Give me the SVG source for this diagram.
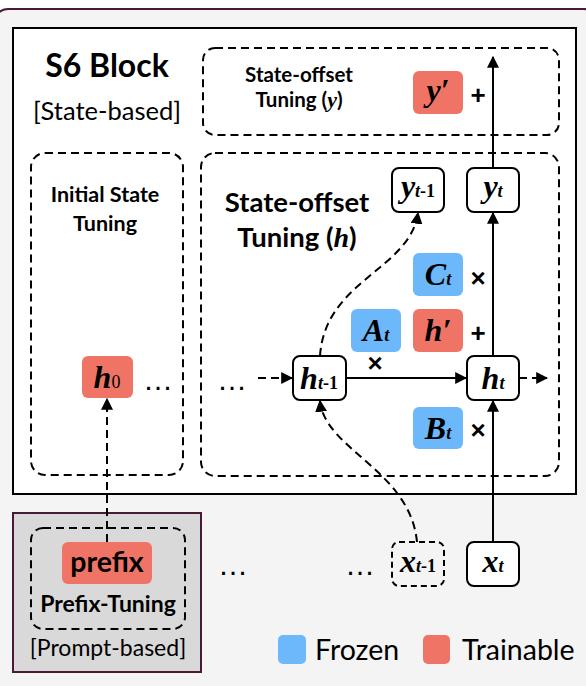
<svg xmlns="http://www.w3.org/2000/svg" width="586" height="686" viewBox="0 0 586 686">
<style>
.sans{font-family:Lato,"Open Sans","Liberation Sans",sans-serif;fill:#000}
.b{font-weight:bold}
.m{font-family:"Liberation Serif","Times New Roman",serif;font-weight:bold;font-style:italic;fill:#000;font-size:32px;text-anchor:middle}
.sub{font-size:18px}
.up{font-style:normal}
.dash{fill:none;stroke:#000;stroke-width:2;stroke-dasharray:8 5}
.node{fill:#fff;stroke:#000;stroke-width:2}
.red{fill:#f07466}
.blue{fill:#6cb8fb}
.line{fill:none;stroke:#000;stroke-width:2}
.op{font-family:"Liberation Sans",sans-serif;font-weight:bold;font-size:26px;text-anchor:middle}
.dots{font-family:"Liberation Sans",sans-serif;font-size:30px;text-anchor:middle}
</style>
<defs>
<marker id="ah" viewBox="0 0 10 10" refX="9" refY="5" markerWidth="6" markerHeight="6" markerUnits="strokeWidth" orient="auto">
<path d="M0,0 L10,5 L0,10 z" fill="#000"/>
</marker>
</defs>
<rect x="-6" y="9" width="604" height="700" rx="14" fill="#f4f4f4" stroke="#4a1a35" stroke-width="2"/>
<g id="s6block">
<rect x="13" y="28" width="563" height="466" fill="#fff" stroke="#000" stroke-width="2"/>
<text class="sans b" x="107" y="77" font-size="32" text-anchor="middle">S6 Block</text>
<text class="sans" x="107" y="120" font-size="25.5" text-anchor="middle">[State-based]</text>
</g>
<g id="offset-y">
<rect class="dash" x="203" y="48" width="356" height="87" rx="12"/>
<text class="sans b" x="299" y="82" font-size="20.5" text-anchor="middle">State-offset</text>
<text class="sans b" x="299" y="107" font-size="20.5" text-anchor="middle">Tuning (<tspan font-family="Liberation Serif,serif" font-style="italic" font-size="22">y</tspan>)</text>
</g>
<g id="initial">
<rect class="dash" x="31" y="153" width="152" height="322" rx="14"/>
<text class="sans b" x="105" y="202" font-size="21.5" text-anchor="middle">Initial State</text>
<text class="sans b" x="105" y="231" font-size="21.5" text-anchor="middle">Tuning</text>
</g>
<g id="offset-h">
<rect class="dash" x="201" y="153" width="358" height="323" rx="14"/>
<text class="sans b" x="297" y="212" font-size="27.5" text-anchor="middle">State-offset</text>
<text class="sans b" x="297" y="247" font-size="27.5" text-anchor="middle">Tuning (<tspan font-family="Liberation Serif,serif" font-style="italic" font-size="28">h</tspan>)</text>
</g>
<g id="yprime">
<rect class="red" x="413" y="71" width="50" height="43" rx="6"/>
<text class="m" x="438" y="101">y′</text>
</g>
<g id="h0">
<rect class="red" x="82" y="356" width="51" height="42" rx="6"/>
<text class="m" x="107" y="388">h<tspan class="sub up" font-weight="normal">0</tspan></text>
</g>
<g id="yt1">
<rect class="node" x="392" y="168" width="52" height="44" rx="7"/>
<text class="m" x="418" y="197">y<tspan class="sub">t</tspan><tspan class="sub up">-1</tspan></text>
</g>
<g id="yt">
<rect class="node" x="467" y="168" width="52" height="44" rx="7"/>
<text class="m" x="493" y="197">y<tspan class="sub">t</tspan></text>
</g>
<g id="Ct">
<rect class="blue" x="413" y="253" width="50" height="43" rx="6"/>
<text class="m" x="438" y="285">C<tspan class="sub">t</tspan></text>
</g>
<g id="At">
<rect class="blue" x="351" y="309" width="50" height="43" rx="6"/>
<text class="m" x="376" y="341">A<tspan class="sub">t</tspan></text>
</g>
<g id="hprime">
<rect class="red" x="413" y="309" width="50" height="43" rx="6"/>
<text class="m" x="438" y="341">h′</text>
</g>
<g id="Bt">
<rect class="blue" x="413" y="407" width="50" height="42" rx="6"/>
<text class="m" x="438" y="439">B<tspan class="sub">t</tspan></text>
</g>
<g id="ht1">
<rect class="node" x="293" y="356" width="53" height="44" rx="7"/>
<text class="m" x="319" y="389">h<tspan class="sub">t</tspan><tspan class="sub up">-1</tspan></text>
</g>
<g id="ht">
<rect class="node" x="467" y="356" width="52" height="44" rx="7"/>
<text class="m" x="493" y="389">h<tspan class="sub">t</tspan></text>
</g>
<g id="prefix-tuning">
<rect x="13" y="513" width="188" height="159" fill="#d9d9d9" stroke="#4a1a35" stroke-width="2"/>
<rect class="dash" x="31" y="528" width="154" height="101" rx="12"/>
<rect class="red" x="62" y="542" width="90" height="42" rx="6"/>
<text class="sans b" x="107" y="572" font-size="28.5" text-anchor="middle">prefix</text>
<text class="sans b" x="108" y="612" font-size="23" text-anchor="middle">Prefix-Tuning</text>
<text class="sans" x="108" y="656" font-size="23" text-anchor="middle">[Prompt-based]</text>
</g>
<g id="xt1">
<rect class="dash" x="392" y="542" width="52" height="44" rx="7" style="stroke-dasharray:6 4"/>
<text class="m" x="418" y="572">x<tspan class="sub">t</tspan><tspan class="sub up">-1</tspan></text>
</g>
<g id="xt">
<rect class="node" x="467" y="542" width="52" height="44" rx="7"/>
<text class="m" x="493" y="572">x<tspan class="sub">t</tspan></text>
</g>
<g id="operators">
<text class="op" x="478" y="104">+</text>
<text class="op" x="478" y="287">×</text>
<text class="op" x="478" y="342">+</text>
<text class="op" x="375" y="372">×</text>
<text class="op" x="478" y="439">×</text>
<text class="dots" x="158" y="390">…</text>
<text class="dots" x="232" y="390">…</text>
<text class="dots" x="233" y="575">…</text>
<text class="dots" x="360" y="575">…</text>
</g>
<g id="legend">
<rect class="blue" x="278" y="635" width="28" height="29" rx="5"/>
<text class="sans" x="315" y="660" font-size="28.5">Frozen</text>
<rect class="red" x="423" y="635" width="27" height="29" rx="5"/>
<text class="sans" x="462" y="660" font-size="28.5">Trainable</text>
</g>
<g id="connectors">
<path class="line" d="M493,542 V401" marker-end="url(#ah)"/>
<path class="line" d="M493,356 V213" marker-end="url(#ah)"/>
<path class="line" d="M493,168 V57" marker-end="url(#ah)"/>
<path class="line" d="M346,378 H466" marker-end="url(#ah)"/>
<path class="dash" d="M519,378 H547" marker-end="url(#ah)"/>
<path class="dash" d="M258,378 H292" marker-end="url(#ah)"/>
<path class="dash" d="M107,542 V399" marker-end="url(#ah)"/>
<path class="dash" d="M417,542 C410,470 325,450 320,401" marker-end="url(#ah)"/>
<path class="dash" d="M320,356 C325,280 410,270 418,213" marker-end="url(#ah)"/>
</g>
</svg>
